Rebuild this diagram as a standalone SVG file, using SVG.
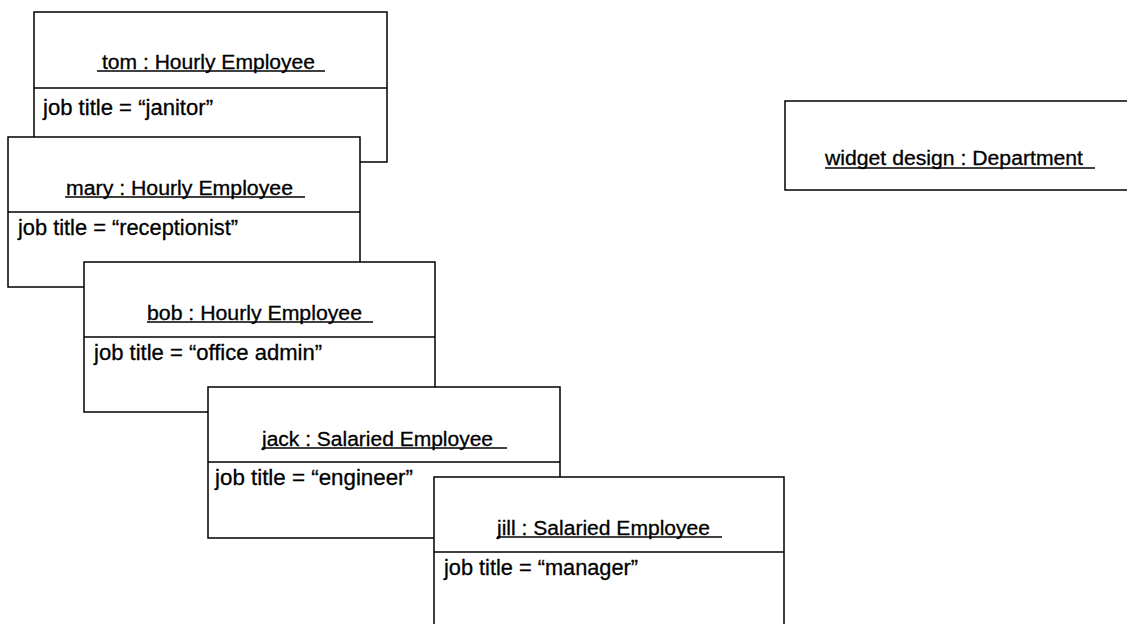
<svg xmlns="http://www.w3.org/2000/svg" width="1127" height="624" viewBox="0 0 1127 624">
<style>
.box{fill:#fff;stroke:#000;stroke-width:1.5}
.div{stroke:#000;stroke-width:1.5}
.ul{stroke:#000;stroke-width:1.5}
.t{font-family:"Liberation Sans",Arial,sans-serif;font-size:20px;fill:#000;stroke:#000;stroke-width:0.3}
.a{font-family:"Liberation Sans",Arial,sans-serif;font-size:22px;fill:#000;stroke:#000;stroke-width:0.3}
</style>
<rect width="1127" height="624" fill="#fff"/>
<g id="connectors"/>
<g id="tom">
<rect class="box" x="34" y="12" width="353" height="150"/>
<line class="div" x1="34" y1="88" x2="387" y2="88"/>
<text class="t" x="102" y="69" textLength="213" lengthAdjust="spacingAndGlyphs">tom : Hourly Employee</text>
<line class="ul" x1="97" y1="71" x2="325" y2="71"/>
<text class="a" x="43" y="115" textLength="170" lengthAdjust="spacingAndGlyphs">job title = “janitor”</text>
</g>
<g id="mary">
<rect class="box" x="8" y="137" width="352" height="150"/>
<line class="div" x1="8" y1="212" x2="360" y2="212"/>
<text class="t" x="66" y="195" textLength="227" lengthAdjust="spacingAndGlyphs">mary : Hourly Employee</text>
<line class="ul" x1="65" y1="197" x2="305" y2="197"/>
<text class="a" x="18" y="235" textLength="220" lengthAdjust="spacingAndGlyphs">job title = “receptionist”</text>
</g>
<g id="bob">
<rect class="box" x="84" y="262" width="351" height="150"/>
<line class="div" x1="84" y1="337" x2="435" y2="337"/>
<text class="t" x="147" y="320" textLength="215" lengthAdjust="spacingAndGlyphs">bob : Hourly Employee</text>
<line class="ul" x1="147" y1="322" x2="373" y2="322"/>
<text class="a" x="94" y="360" textLength="228" lengthAdjust="spacingAndGlyphs">job title = “office admin”</text>
</g>
<g id="jack">
<rect class="box" x="208" y="387" width="352" height="151"/>
<line class="div" x1="208" y1="462" x2="560" y2="462"/>
<text class="t" x="262" y="446" textLength="231" lengthAdjust="spacingAndGlyphs">jack : Salaried Employee</text>
<line class="ul" x1="262" y1="448" x2="507" y2="448"/>
<text class="a" x="215" y="485" textLength="198" lengthAdjust="spacingAndGlyphs">job title = “engineer”</text>
</g>
<g id="jill">
<rect class="box" x="434" y="477" width="350" height="160"/>
<line class="div" x1="434" y1="552" x2="784" y2="552"/>
<text class="t" x="497" y="535" textLength="213" lengthAdjust="spacingAndGlyphs">jill : Salaried Employee</text>
<line class="ul" x1="497" y1="537" x2="722" y2="537"/>
<text class="a" x="444" y="575" textLength="194" lengthAdjust="spacingAndGlyphs">job title = “manager”</text>
</g>
<g id="department">
<rect class="box" x="785" y="101" width="350" height="89"/>
<text class="t" x="825" y="165" textLength="258" lengthAdjust="spacingAndGlyphs">widget design : Department</text>
<line class="ul" x1="825" y1="168" x2="1095" y2="168"/>
</g>
</svg>
